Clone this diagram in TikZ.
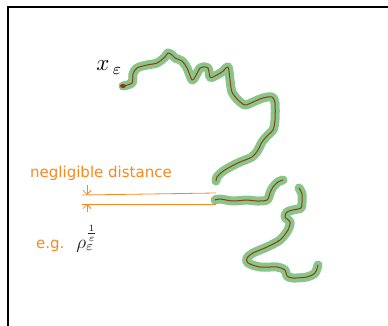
\documentclass[tikz,border=0pt]{standalone}
\usepackage{amsmath,amssymb}
\usepackage{fontspec}
\newfontfamily\labfont{DejaVu Sans}
\usetikzlibrary{arrows.meta,positioning}
\definecolor{distorange}{RGB}{250,135,30}
\definecolor{tubegreen}{RGB}{125,190,125}
\definecolor{pathbrown}{RGB}{140,62,10}
\tikzset{tube/.style={tubegreen,line width=9pt,line cap=round,line join=round},
  walk/.style={pathbrown,line width=1pt,line cap=round,line join=round},
  distline/.style={distorange,line width=.8pt},
  lab/.style={font=\labfont\fontsize{15}{18}\selectfont,text=distorange,inner sep=0pt}}
\newcommand{\curveA}{(123,86) (132,83) (133,74) (137,68) (147,65) (157,63) (165,57) (168,53) (172,55) (175,58) (182,61) (187,68) (192,80) (195,77) (200,68) (203,67) (208,68) (210,77) (213,77) (222,72) (228,67) (230,80) (232,92) (238,100) (245,105) (253,102) (263,98) (272,97) (275,103) (275,120) (273,130) (268,135) (262,142) (258,150) (252,157) (240,162) (230,167) (222,172) (217,177) (216,181)}
\newcommand{\curveB}{(215,200) (220,199) (233,201) (247,200) (257,201) (267,200) (270,193) (273,187) (278,182) (283,180)}
\newcommand{\curveC}{(299,188) (302,194) (302,203) (301,208) (293,210) (287,212) (285,217) (290,222) (288,230) (280,240) (267,247) (253,253) (247,258) (248,263) (260,267) (277,267) (285,270) (287,276) (293,278) (307,277) (315,273) (318,265)}
\begin{document}
\begin{tikzpicture}[x=1pt,y=-1pt,>={Straight Barb[length=4pt,width=8pt]}]
\useasboundingbox (0,0) rectangle (388,326);
\draw[line width=1.2pt] (8,326)--(8,7)--(388,7);
% tube and walk
\foreach \c in {\curveA,\curveB,\curveC}{\draw[tube,opacity=.9] plot[smooth,tension=.5] coordinates {\c};}
\foreach \c in {\curveA,\curveB,\curveC}{\draw[walk] plot[smooth,tension=.5] coordinates {\c};}
\fill[pathbrown] (123,86) ellipse (3 and 2);
\node[anchor=base west,inner sep=0pt,scale=2.3] (start) at (96,71) {$x_{\,\varepsilon}$};
% distance
\coordinate (gapTL) at (82,195);\coordinate (gapTR) at (216,193);
\coordinate (gapBL) at (82,204);\coordinate (gapBR) at (216,204);
\draw[distline] (gapTL)--(gapTR);\draw[distline] (gapBL)--(gapBR);
\coordinate (arrTop) at (87,185);\coordinate (arrBot) at (87,212);
\draw[distline,->] (arrTop)--(87,195);\draw[distline,->] (arrBot)--(87,204);
\node[lab,anchor=base west] (negl) at (30,177) {negligible distance};
\node[lab,anchor=base west] (eg) at (36,248) {e.g.};
\node[anchor=base west,inner sep=0pt,text=black!85,scale=1.9] (rho) at (76,248) {$\rho_\varepsilon^{\frac{1}{\varepsilon}}$};
\end{tikzpicture}
\end{document}
